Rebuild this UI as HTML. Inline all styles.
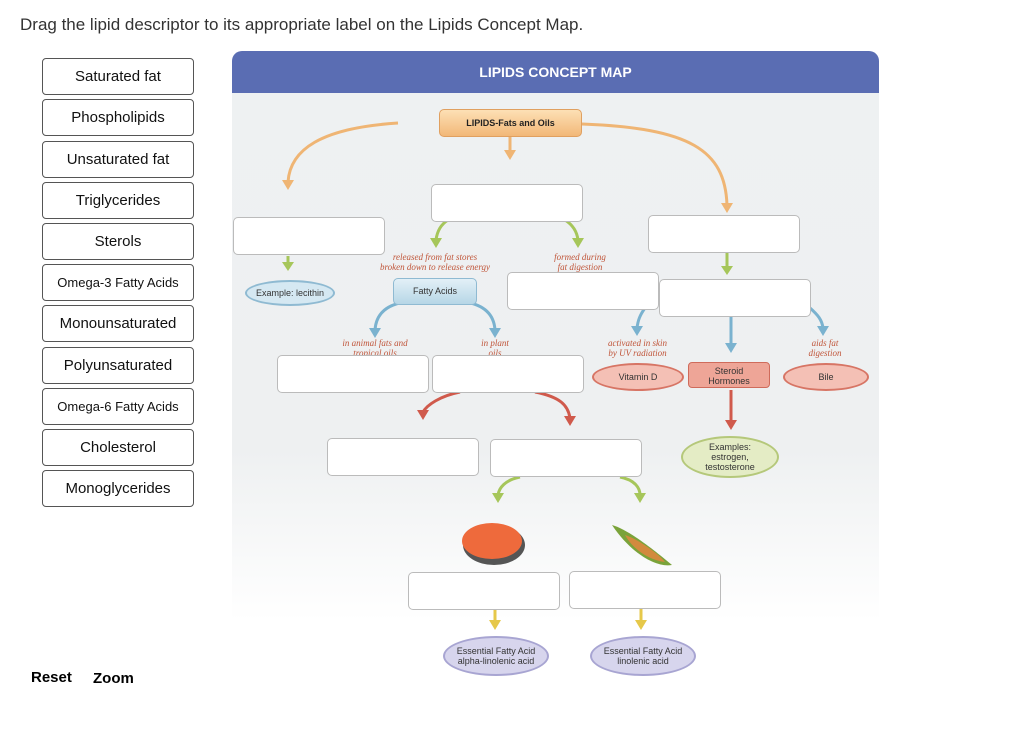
<!DOCTYPE html>
<html><head><meta charset="utf-8"><style>
body{margin:0;width:1024px;height:736px;background:#fff;font-family:"Liberation Sans",sans-serif;position:relative;overflow:hidden}
.a{position:absolute}
.btn{position:absolute;left:42px;width:150px;height:35px;border:1px solid #555;border-radius:4px;background:#fff;text-align:center;line-height:35px;font-size:15px;color:#111}
.drop{position:absolute;width:150px;height:36px;background:#fff;border:1px solid #bbb;border-radius:5px}
.lbl{position:absolute;font-family:"Liberation Serif",serif;font-style:italic;font-size:9px;color:#c0553a;text-align:center;line-height:10px}
.ov{position:absolute;border-radius:50%;text-align:center;font-size:9px;color:#333;display:flex;align-items:center;justify-content:center;line-height:10px}
</style></head><body>
<div class="a" style="left:20px;top:15px;font-size:17px;color:#333">Drag the lipid descriptor to its appropriate label on the Lipids Concept Map.</div>

<div class="btn" style="top:58px">Saturated fat</div>
<div class="btn" style="top:99px">Phospholipids</div>
<div class="btn" style="top:141px">Unsaturated fat</div>
<div class="btn" style="top:182px">Triglycerides</div>
<div class="btn" style="top:223px">Sterols</div>
<div class="btn" style="top:264px;font-size:13px">Omega-3 Fatty Acids</div>
<div class="btn" style="top:305px">Monounsaturated</div>
<div class="btn" style="top:347px">Polyunsaturated</div>
<div class="btn" style="top:388px;font-size:13px">Omega-6 Fatty Acids</div>
<div class="btn" style="top:429px">Cholesterol</div>
<div class="btn" style="top:470px">Monoglycerides</div>
<div class="a" style="left:31px;top:669px;font-weight:bold;font-size:15px">Reset</div>
<div class="a" style="left:93px;top:670px;font-weight:bold;font-size:15px">Zoom</div>

<div class="a" style="left:232px;top:51px;width:647px;height:570px;background:linear-gradient(#eef1f2 0%,#eef0f1 70%,#fff 100%);border-radius:10px 10px 0 0"></div>
<div class="a" style="left:232px;top:51px;width:647px;height:42px;background:#5a6db3;border-radius:10px 10px 0 0;color:#fff;font-weight:bold;font-size:14px;text-align:center;line-height:42px">LIPIDS CONCEPT MAP</div>

<svg class="a" style="left:0;top:0" width="1024" height="736">
<defs>
<marker id="o" markerWidth="6" markerHeight="6" refX="3" refY="3" orient="auto"><path d="M0,0L6,3L0,6z" fill="#e9ab64"/></marker>
</defs>
<g fill="none" stroke-width="3">
<path d="M398,123 C320,128 290,150 288,182" stroke="#efb574"/>
<path d="M582,124 C690,128 725,150 727,205" stroke="#efb574"/>
<path d="M510,135 V152" stroke="#efb574"/>
<path d="M448,220 C440,225 437,232 436,240" stroke="#a6c65a"/>
<path d="M565,220 C573,225 577,232 578,240" stroke="#a6c65a"/>
<path d="M288,256 V265" stroke="#a6c65a"/>
<path d="M727,253 V268" stroke="#a6c65a"/>
<path d="M405,302 C385,305 376,315 375,330" stroke="#7ab2cf"/>
<path d="M465,302 C485,305 494,315 495,330" stroke="#7ab2cf"/>
<path d="M645,308 C640,315 638,320 637,328" stroke="#7ab2cf"/>
<path d="M731,316 V345" stroke="#7ab2cf"/>
<path d="M810,308 C818,315 822,320 823,328" stroke="#7ab2cf"/>
<path d="M460,392 C440,396 427,405 423,412" stroke="#d05a4c"/>
<path d="M535,392 C560,397 568,405 570,418" stroke="#d05a4c"/>
<path d="M731,390 V422" stroke="#d05a4c"/>
<path d="M520,477 C505,480 499,488 498,495" stroke="#a6c65a"/>
<path d="M620,477 C635,480 640,488 640,495" stroke="#a6c65a"/>
<path d="M495,608 V622" stroke="#e6c84a"/>
<path d="M641,608 V622" stroke="#e6c84a"/>
</g>
<g>
<path d="M282,180 L294,180 L288,190z" fill="#efb574"/>
<path d="M504,150 L516,150 L510,160z" fill="#efb574"/>
<path d="M721,203 L733,203 L727,213z" fill="#efb574"/>
<path d="M430,238 L442,238 L436,248z" fill="#a6c65a"/>
<path d="M572,238 L584,238 L578,248z" fill="#a6c65a"/>
<path d="M282,262 L294,262 L288,271z" fill="#a6c65a"/>
<path d="M721,266 L733,266 L727,275z" fill="#a6c65a"/>
<path d="M369,328 L381,328 L375,338z" fill="#7ab2cf"/>
<path d="M489,328 L501,328 L495,338z" fill="#7ab2cf"/>
<path d="M631,326 L643,326 L637,336z" fill="#7ab2cf"/>
<path d="M725,343 L737,343 L731,353z" fill="#7ab2cf"/>
<path d="M817,326 L829,326 L823,336z" fill="#7ab2cf"/>
<path d="M417,410 L429,410 L423,420z" fill="#d05a4c"/>
<path d="M564,416 L576,416 L570,426z" fill="#d05a4c"/>
<path d="M725,420 L737,420 L731,430z" fill="#d05a4c"/>
<path d="M492,493 L504,493 L498,503z" fill="#a6c65a"/>
<path d="M634,493 L646,493 L640,503z" fill="#a6c65a"/>
<path d="M489,620 L501,620 L495,630z" fill="#e6c84a"/>
<path d="M635,620 L647,620 L641,630z" fill="#e6c84a"/>
</g>
<!-- salmon -->
<ellipse cx="494" cy="545" rx="31" ry="20" fill="#555"/>
<ellipse cx="492" cy="541" rx="30" ry="18" fill="#ee6a3c"/>
<!-- corn -->
<path d="M612,525 C630,530 660,555 672,565 C655,568 630,552 612,525z" fill="#7aa33a"/>
<path d="M625,535 C640,540 660,555 665,562 C648,560 632,548 625,535z" fill="#d28a3e"/>
</svg>

<div class="a" style="left:439px;top:109px;width:141px;height:26px;background:linear-gradient(#fde0b5,#f2b878);border:1px solid #e0a060;border-radius:5px;font-size:9px;font-weight:bold;text-align:center;line-height:26px;color:#222">LIPIDS-Fats and Oils</div>
<div class="ov" style="left:245px;top:280px;width:86px;height:22px;background:#d5e8f2;border:2px solid #8fbad2;font-size:9px">Example: lecithin</div>
<div class="a" style="left:393px;top:278px;width:82px;height:25px;background:linear-gradient(#e3f0f7,#b6d6e6);border:1px solid #8fbad2;border-radius:5px;font-size:9px;text-align:center;line-height:25px;color:#333">Fatty Acids</div>
<div class="ov" style="left:592px;top:363px;width:88px;height:24px;background:#f4c0b5;border:2px solid #d77565">Vitamin D</div>
<div class="a" style="left:688px;top:362px;width:82px;height:26px;background:#eea597;border:1px solid #cf6b5b;border-radius:4px;font-size:9px;text-align:center;line-height:10px;color:#333;padding-top:3px;box-sizing:border-box">Steroid<br>Hormones</div>
<div class="ov" style="left:783px;top:363px;width:82px;height:24px;background:#f4c0b5;border:2px solid #d77565">Bile</div>
<div class="ov" style="left:681px;top:436px;width:94px;height:38px;background:#e4ecc5;border:2px solid #b5c87a">Examples:<br>estrogen,<br>testosterone</div>
<div class="ov" style="left:443px;top:636px;width:102px;height:36px;background:#d7d5ed;border:2px solid #a8a5d2">Essential Fatty Acid<br>alpha-linolenic acid</div>
<div class="ov" style="left:590px;top:636px;width:102px;height:36px;background:#d7d5ed;border:2px solid #a8a5d2">Essential Fatty Acid<br>linolenic acid</div>

<div class="lbl" style="left:365px;top:252px;width:140px">released from fat stores<br>broken down to release energy</div>
<div class="lbl" style="left:540px;top:252px;width:80px">formed during<br>fat digestion</div>
<div class="lbl" style="left:330px;top:338px;width:90px">in animal fats and<br>tropical oils</div>
<div class="lbl" style="left:470px;top:338px;width:50px">in plant<br>oils</div>
<div class="lbl" style="left:595px;top:338px;width:85px">activated in skin<br>by UV radiation</div>
<div class="lbl" style="left:795px;top:338px;width:60px">aids fat<br>digestion</div>

<div class="drop" style="left:233px;top:217px"></div>
<div class="drop" style="left:431px;top:184px"></div>
<div class="drop" style="left:648px;top:215px"></div>
<div class="drop" style="left:507px;top:272px"></div>
<div class="drop" style="left:659px;top:279px"></div>
<div class="drop" style="left:277px;top:355px"></div>
<div class="drop" style="left:432px;top:355px"></div>
<div class="drop" style="left:327px;top:438px"></div>
<div class="drop" style="left:490px;top:439px"></div>
<div class="drop" style="left:408px;top:572px"></div>
<div class="drop" style="left:569px;top:571px"></div>
</body></html>
